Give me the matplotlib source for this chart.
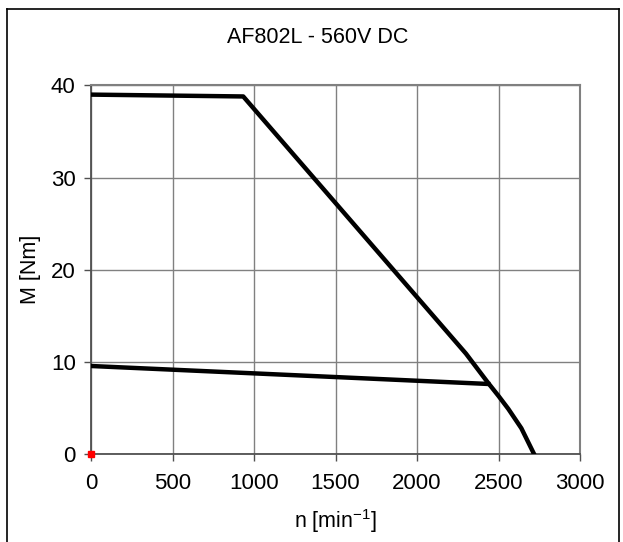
import matplotlib
matplotlib.use("Agg")
import matplotlib.pyplot as plt

plt.rcParams['font.family'] = ['Liberation Sans', 'DejaVu Sans']
plt.rcParams['mathtext.fontset'] = 'custom'
plt.rcParams['mathtext.rm'] = 'Liberation Sans'
plt.rcParams['mathtext.it'] = 'Liberation Sans:italic'
plt.rcParams['mathtext.bf'] = 'Liberation Sans:bold'

title = "AF802L - 560V DC"
xlabel = r"n [min$^{\mathregular{-1}}$]"
ylabel = "M [Nm]"
x_ticks = [0, 500, 1000, 1500, 2000, 2500, 3000]
y_ticks = [0, 10, 20, 30, 40]

# Upper curve (peak torque)
peak_n = [0, 934, 2300, 2437, 2500, 2560, 2640, 2718]
peak_m = [39.0, 38.8, 10.9, 7.7, 6.3, 4.9, 2.8, 0.0]

# Lower curve (continuous torque)
cont_n = [0, 1000, 2437]
cont_m = [9.55, 8.75, 7.6]

# Marker point
pt_n = [0]
pt_m = [0]

fig = plt.figure(figsize=(6.23, 5.42), dpi=100)
ax = fig.add_axes([91/623, 1-454/542, (580-91)/623, (454-85.4)/542])

ax.plot(peak_n, peak_m, color='black', lw=3.2, solid_joinstyle='round', zorder=3)
ax.plot(cont_n, cont_m, color='black', lw=3.2, zorder=3)
ax.plot(pt_n, pt_m, marker='s', color='red', ms=4, ls='none', clip_on=False, zorder=5)

ax.set_xlim(0, 3000)
ax.set_ylim(0, 40)
ax.set_xticks(x_ticks)
ax.set_yticks(y_ticks)
ax.grid(True, color='#808080', lw=1.0)
ax.set_axisbelow(True)

for s in ['top', 'right']:
    ax.spines[s].set_color('#808080')
    ax.spines[s].set_linewidth(1.5)
for s in ['left', 'bottom']:
    ax.spines[s].set_color('#505050')
    ax.spines[s].set_linewidth(1.3)

ax.tick_params(axis='both', direction='out', length=5, width=1, color='#505050',
               labelsize=16, pad=6)
ax.tick_params(axis='x', pad=9)

ax.set_xlabel(xlabel, fontsize=15.5, labelpad=9)
ax.set_ylabel(ylabel, fontsize=15.5, labelpad=7)
fig.text(318/623, 1-38/542, title, fontsize=15.5, ha='center', va='center')

# Figure border (left, top, right)
fig.add_artist(plt.Line2D([7/623, 7/623], [0, 1-9/542], color='black', lw=1.2, transform=fig.transFigure))
fig.add_artist(plt.Line2D([7/623, 619/623], [1-9/542, 1-9/542], color='black', lw=1.2, transform=fig.transFigure))
fig.add_artist(plt.Line2D([619/623, 619/623], [0, 1-9/542], color='black', lw=1.2, transform=fig.transFigure))

fig.savefig("out.png", dpi=100)
